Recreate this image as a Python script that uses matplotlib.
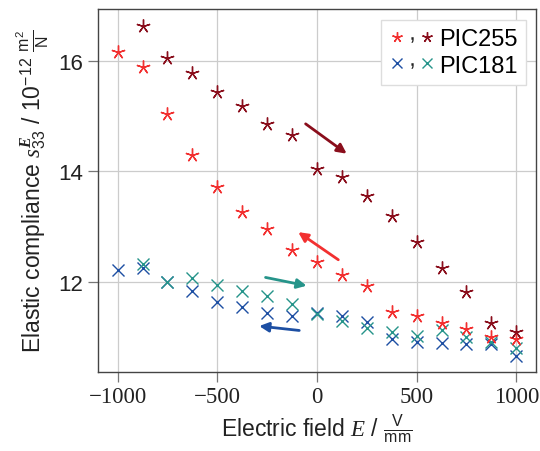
import matplotlib
matplotlib.use("Agg")
import matplotlib.pyplot as plt
from matplotlib.lines import Line2D
from matplotlib.legend_handler import HandlerTuple
from matplotlib.markers import MarkerStyle
from matplotlib.transforms import Affine2D

plt.rcParams['font.family'] = ['Liberation Sans', 'DejaVu Sans']
plt.rcParams['mathtext.fontset'] = 'custom'
plt.rcParams['mathtext.rm'] = 'Liberation Sans'
plt.rcParams['mathtext.it'] = 'Liberation Serif:italic'
plt.rcParams['mathtext.bf'] = 'Liberation Serif:italic:bold'

# electric field steps (V/mm)
field = [-1000, -875, -750, -625, -500, -375, -250, -125, 0,
         125, 250, 375, 500, 625, 750, 875, 1000]

# PIC255, decreasing field sweep (light red)
pic255_a = [16.16, 15.89, 15.04, 14.30, 13.71, 13.26, 12.95, 12.58, 12.36,
            12.13, 11.92, 11.46, 11.38, 11.25, 11.15, 11.00, 10.97]
# PIC255, increasing field sweep (dark red), starts at -875
pic255_b = [16.64, 16.05, 15.78, 15.44, 15.19, 14.85, 14.65, 14.05,
            13.89, 13.55, 13.20, 12.72, 12.25, 11.82, 11.26, 11.09]

# PIC181 (blue)
pic181_a = [12.22, 12.25, 11.99, 11.83, 11.63, 11.54, 11.43, 11.39, 11.43,
            11.38, 11.27, 10.96, 10.92, 10.90, 10.88, 10.88, 10.65]
# PIC181 (teal), starts at -875
pic181_b = [12.32, 11.99, 12.07, 11.95, 11.83, 11.74, 11.60, 11.42,
            11.30, 11.16, 11.09, 11.02, 11.12, 11.00, 10.92, 10.80]

c_red = '#f23030'
c_dred = '#8a0e1c'
c_blue = '#1d4fa3'
c_teal = '#26948a'

star = (5, 2, 0)

fig = plt.figure(figsize=(5.4, 4.52), dpi=100)
ax = fig.add_axes([0.181, 0.175, 0.812, 0.803])

ax.plot(field, pic181_a, ls='none', marker='x', ms=8, mew=1.0, c=c_blue)
ax.plot(field[1:], pic181_b, ls='none', marker='x', ms=8, mew=1.0, c=c_teal)
ax.plot(field, pic255_a, ls='none', marker=star, ms=10, mew=1.0, c=c_red)
ax.plot(field[1:], pic255_b, ls='none', marker=star, ms=10, mew=1.0, c=c_dred)

# sweep direction arrows
arrows = [((-57, 14.86), (149, 14.32), c_dred),
          ((107, 12.40), (-94, 12.90), c_red),
          ((-258, 12.08), (-52, 11.93), c_teal),
          ((-89, 11.12), (-290, 11.20), c_blue)]
for tail, head, col in arrows:
    ax.annotate('', xy=head, xytext=tail,
                arrowprops=dict(arrowstyle='-|>', color=col, lw=2,
                                mutation_scale=14, shrinkA=0, shrinkB=0))

ax.set_xlim(-1100, 1100)
ax.set_ylim(10.37, 16.94)
ax.set_xticks([-1000, -500, 0, 500, 1000])
ax.set_yticks([12, 14, 16])
ax.grid(True, color='#cccccc', lw=0.9)
ax.set_axisbelow(True)

ax.tick_params(axis='both', direction='out', length=7, width=0.9,
               color='#777777', labelsize=16, labelcolor='#222222')
for lab in ax.get_xticklabels():
    lab.set_fontfamily('Liberation Serif')
    lab.set_fontsize(16.5)
for sp in ax.spines.values():
    sp.set_color('#444444')
    sp.set_linewidth(1.0)

ax.set_xlabel(r'Electric field $E$ / $\frac{\mathrm{V}}{\mathrm{mm}}$',
              fontsize=16.5, color='#222222', labelpad=3)
ax.set_ylabel(r'Elastic compliance $s_{33}^{\mathbf{E}}$ / $10^{-12}$ $\frac{\mathrm{m}^2}{\mathrm{N}}$',
              fontsize=16.5, color='#222222', labelpad=5)

# legend: two markers separated by a comma
comma = MarkerStyle('$,$', transform=Affine2D().translate(0, -0.45))
h_ra = Line2D([], [], ls='none', marker=star, ms=7.5, mew=1.0, c=c_red)
h_rb = Line2D([], [], ls='none', marker=star, ms=7.5, mew=1.0, c=c_dred)
h_ba = Line2D([], [], ls='none', marker='x', ms=6.5, mew=1.0, c=c_blue)
h_bb = Line2D([], [], ls='none', marker='x', ms=6.5, mew=1.0, c=c_teal)
h_comma = Line2D([], [], ls='none', marker=comma, ms=4, mew=0, c='#222222')
leg = ax.legend([(h_ra, h_comma, h_rb), (h_ba, h_comma, h_bb)],
                ['PIC255', 'PIC181'],
                handler_map={tuple: HandlerTuple(ndivide=None, pad=0.0)},
                loc='upper right', fontsize=17, handlelength=1.9,
                handletextpad=0.2, borderpad=0.35, labelspacing=0.2,
                borderaxespad=0.45,
                fancybox=False, framealpha=1, edgecolor='#dddddd')

fig.savefig('out.png', dpi=100)
